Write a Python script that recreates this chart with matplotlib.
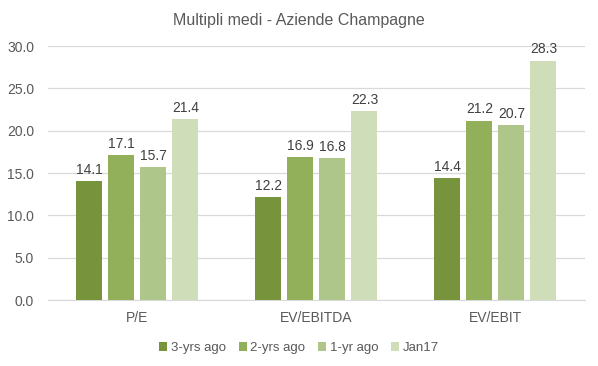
import numpy as np
import matplotlib.pyplot as plt

plt.rcParams['font.family'] = ['Liberation Sans Narrow', 'Liberation Sans', 'DejaVu Sans']

categories = ['P/E', 'EV/EBITDA', 'EV/EBIT']
series = ['3-yrs ago', '2-yrs ago', '1-yr ago', 'Jan17']
v_3y = [14.1, 12.2, 14.4]
v_2y = [17.1, 16.9, 21.2]
v_1y = [15.7, 16.8, 20.7]
v_jan = [21.4, 22.3, 28.3]
colors = ['#77933C', '#92B05A', '#AFC68A', '#CFDDB8']
txt = '#595959'

fig = plt.figure(figsize=(5.98, 3.66), dpi=100)
ax = fig.add_axes([0.080, 0.180, 0.898, 0.694])

x = np.arange(len(categories))
w = 0.145
step = 0.179
for i, (name, vals) in enumerate(zip(series, [v_3y, v_2y, v_1y, v_jan])):
    xs = x + (i - 1.5) * step
    bars = ax.bar(xs, vals, width=w, color=colors[i], label=name, zorder=3)
    for b, v in zip(bars, vals):
        ax.text(b.get_x() + b.get_width() / 2, v + 0.5, f'{v:.1f}', ha='center', va='bottom',
                fontsize=10, color='#404040')

ax.set_xlim(-0.5, 2.5)
ax.set_ylim(0, 30)
ax.set_yticks(np.arange(0, 31, 5))
ax.set_yticklabels([f'{t:.1f}' for t in np.arange(0, 31, 5)])
ax.set_xticks(x)
ax.set_xticklabels(categories)
ax.tick_params(axis='both', length=0, colors=txt, labelsize=10)
ax.tick_params(axis='y', pad=10)
ax.tick_params(axis='x', pad=8)
ax.grid(axis='y', color='#D9D9D9', linewidth=0.9, zorder=0)
for s in ['top', 'right', 'left']:
    ax.spines[s].set_visible(False)
ax.spines['bottom'].set_color('#D9D9D9')

fig.suptitle('Multipli medi - Aziende Champagne', y=0.965, fontsize=11.5, color=txt)
fig.legend(loc='lower center', bbox_to_anchor=(0.5, 0.0), ncol=4, frameon=False,
           fontsize=9.5, handlelength=0.6, handleheight=0.6, handletextpad=0.25,
           columnspacing=1.0, labelcolor=txt)

fig.savefig('out.png', dpi=100)
